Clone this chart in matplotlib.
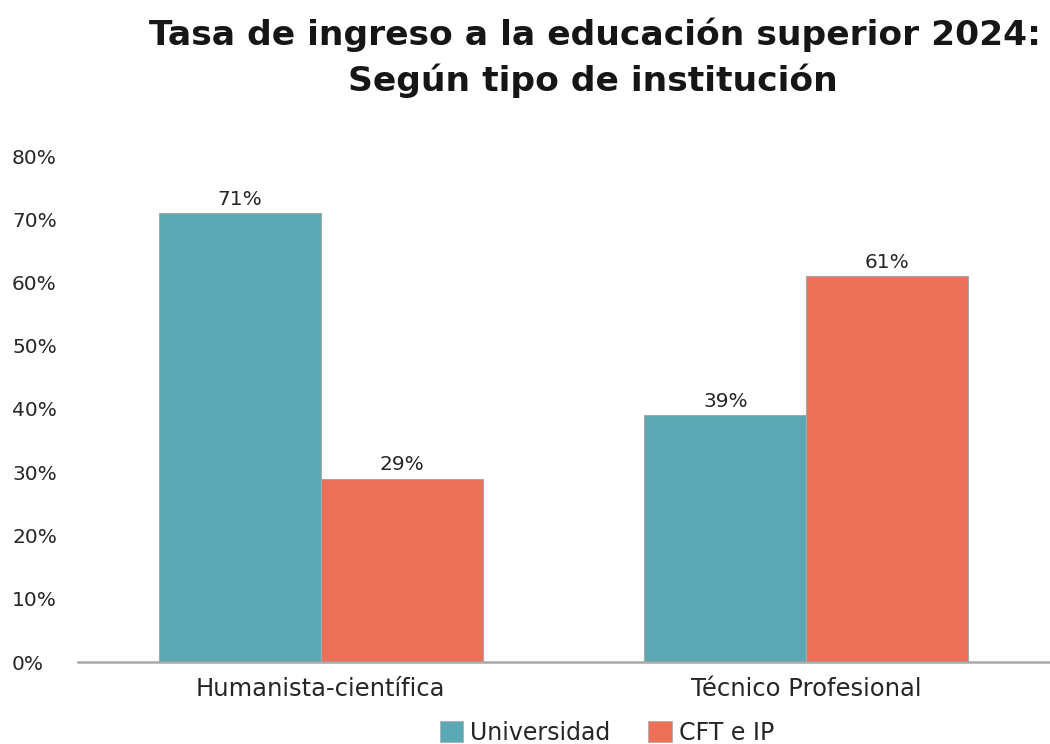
import matplotlib
matplotlib.use("Agg")
import matplotlib.pyplot as plt
import numpy as np
from matplotlib.patches import Patch

categories = ["Humanista-científica", "Técnico Profesional"]
series_names = ["Universidad", "CFT e IP"]
universidad = [0.71, 0.39]
cft_ip = [0.29, 0.61]
yticks = [0, 0.1, 0.2, 0.3, 0.4, 0.5, 0.6, 0.7, 0.8]
ytick_labels = ["0%", "10%", "20%", "30%", "40%", "50%", "60%", "70%", "80%"]

teal = "#5BA8B5"
coral = "#EC7058"
edge = "#A8A8A8"
txt = "#262626"

plt.rcParams['font.family'] = ['DejaVu Sans']

fig = plt.figure(figsize=(10.5, 7.44), dpi=100)
ax = fig.add_axes([78/1050, 82/744, (1049-78)/1050, (662-156)/744])

x = np.arange(len(categories))
w = 1/3
b1 = ax.bar(x - w/2, universidad, w, color=teal, edgecolor=edge, linewidth=0.8)
b2 = ax.bar(x + w/2, cft_ip, w, color=coral, edgecolor=edge, linewidth=0.8)

for bars, vals in ((b1, universidad), (b2, cft_ip)):
    for r, v in zip(bars, vals):
        ax.annotate(f"{round(v*100)}%", (r.get_x() + r.get_width()/2, v),
                    xytext=(0, 3), textcoords="offset points",
                    ha="center", va="bottom", fontsize=14.5, color=txt)

ax.set_xlim(-0.5, 1.5)
ax.set_ylim(0, 0.8)
ax.set_yticks(yticks)
ax.set_yticklabels(ytick_labels, fontsize=14.5, color=txt, ha="left")
ax.tick_params(axis="y", length=0, pad=47.5)
ax.set_xticks(x)
ax.set_xticklabels(categories, fontsize=17.5, color=txt)
ax.tick_params(axis="x", length=0, pad=11)
for s in ("left", "right", "top"):
    ax.spines[s].set_visible(False)
ax.spines["bottom"].set_color("#A8A8A8")
ax.spines["bottom"].set_linewidth(1.8)

fig.text(595/1050, 1 - 45/744, "Tasa de ingreso a la educación superior 2024:",
         ha="center", va="baseline", fontsize=24.8, color="#161616", fontweight="bold")
fig.text(593/1050, 1 - 91/744, "Según tipo de institución",
         ha="center", va="baseline", fontsize=24.8, color="#161616", fontweight="bold")

handles = [Patch(facecolor=teal, edgecolor=edge, linewidth=0.5),
           Patch(facecolor=coral, edgecolor=edge, linewidth=0.5)]
fig.legend(handles, series_names, loc="center", bbox_to_anchor=(607/1050, 1 - 733/744),
           ncol=2, frameon=False, fontsize=17, handlelength=1.0, handleheight=1.0,
           handletextpad=0.3, columnspacing=1.6, labelcolor=txt)

fig.savefig("out.png", dpi=100)
